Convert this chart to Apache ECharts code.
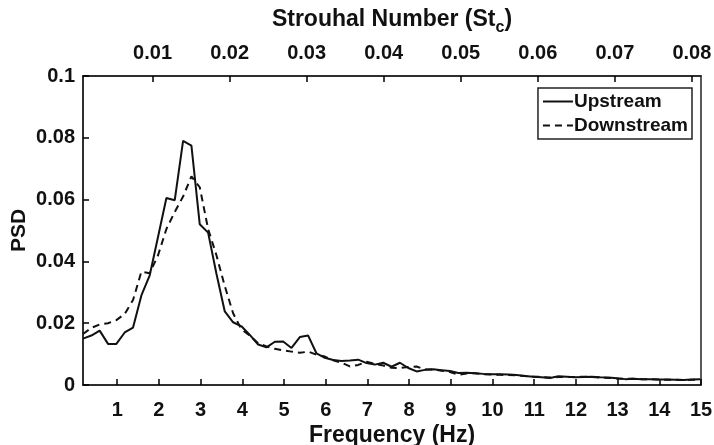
<!DOCTYPE html>
<html>
<head>
<meta charset="utf-8">
<script src="https://cdn.jsdelivr.net/npm/echarts@6/dist/echarts.min.js"></script>
<style>
  html, body { margin: 0; padding: 0; background: #fff; }
  #chart { width: 714px; height: 445px; }
</style>
</head>
<body>
<div id="chart"></div>
<script>
// frequency bins (Hz)
const freq = [
  0.18, 0.38, 0.58, 0.78, 0.98, 1.18, 1.38, 1.58, 1.78, 1.98,
  2.18, 2.38, 2.58, 2.78, 2.98, 3.18, 3.38, 3.58, 3.78, 3.98,
  4.18, 4.38, 4.58, 4.78, 4.98, 5.18, 5.38, 5.58, 5.78, 5.98,
  6.18, 6.38, 6.58, 6.78, 6.98, 7.18, 7.38, 7.58, 7.78, 7.98,
  8.18, 8.38, 8.58, 8.78, 8.98, 9.18, 9.38, 9.58, 9.78, 9.98,
  10.18, 10.38, 10.58, 10.78, 10.98, 11.18, 11.38, 11.58, 11.78, 11.98,
  12.18, 12.38, 12.58, 12.78, 12.98, 13.18, 13.38, 13.58, 13.78, 13.98,
  14.18, 14.38, 14.58, 14.78, 14.98
];

const upstream = [
  0.0150, 0.0160, 0.0176, 0.0133, 0.0133, 0.0170, 0.0186, 0.0290, 0.0355, 0.0480,
  0.0605, 0.0598, 0.0790, 0.0775, 0.0520, 0.0493, 0.0360, 0.0238, 0.0203, 0.0190,
  0.0162, 0.0131, 0.0122, 0.0140, 0.0141, 0.0120, 0.0155, 0.0160, 0.0102, 0.0088,
  0.0081, 0.0078, 0.0079, 0.0082, 0.0071, 0.0066, 0.0072, 0.0059, 0.0072, 0.0055,
  0.0044, 0.0049, 0.0051, 0.0048, 0.0045, 0.0039, 0.0040, 0.0038, 0.0036, 0.0035,
  0.0035, 0.0034, 0.0032, 0.0029, 0.0027, 0.0025, 0.0023, 0.0028, 0.0027, 0.0025,
  0.0026, 0.0027, 0.0025, 0.0024, 0.0022, 0.0019, 0.0020, 0.0019, 0.0019, 0.0018,
  0.0018, 0.0017, 0.0016, 0.0018, 0.0019
];

const downstream = [
  0.0165, 0.0185, 0.0196, 0.0200, 0.0210, 0.0230, 0.0275, 0.0367, 0.0362, 0.0420,
  0.0505, 0.0560, 0.0610, 0.0675, 0.0640, 0.0505, 0.0420, 0.0320, 0.0232, 0.0180,
  0.0160, 0.0135, 0.0125, 0.0117, 0.0112, 0.0108, 0.0104, 0.0108, 0.0098, 0.0092,
  0.0080, 0.0072, 0.0060, 0.0065, 0.0075, 0.0068, 0.0063, 0.0056, 0.0055, 0.0058,
  0.0060, 0.0050, 0.0050, 0.0046, 0.0042, 0.0033, 0.0037, 0.0038, 0.0035, 0.0034,
  0.0033, 0.0032, 0.0031, 0.0029, 0.0027, 0.0026, 0.0024, 0.0026, 0.0026, 0.0026,
  0.0027, 0.0026, 0.0024, 0.0023, 0.0021, 0.0020, 0.0020, 0.0019, 0.0019, 0.0018,
  0.0017, 0.0017, 0.0016, 0.0017, 0.0018
];

const freqTicks = [1, 2, 3, 4, 5, 6, 7, 8, 9, 10, 11, 12, 13, 14, 15];
const stTicks = [0.01, 0.02, 0.03, 0.04, 0.05, 0.06, 0.07, 0.08];

const fMin = 0.18, fMax = 15;
const stPerHz = 0.005412; // St_c per Hz (top axis scale)

const font = 'Liberation Sans';
const chart = echarts.init(document.getElementById('chart'));

const tickStyle = { show: true, inside: true, length: 6, lineStyle: { color: '#000', width: 1.5 } };
const labelStyle = { color: '#111', fontFamily: font, fontWeight: 'bold', fontSize: 20 };

chart.setOption({
  animation: false,
  grid: {
    left: 83, right: 13, top: 76, bottom: 60,
    outerBoundsMode: 'none',
    show: true, borderColor: '#222', borderWidth: 1.5
  },
  legend: {
    orient: 'vertical',
    right: 22, top: 88,
    align: 'left',
    itemWidth: 30, itemHeight: 14, itemGap: 5,
    padding: [4, 4, 4, 4],
    borderColor: '#222', borderWidth: 1.5,
    itemStyle: { opacity: 0 },
    textStyle: { color: '#111', fontFamily: font, fontWeight: 'bold', fontSize: 19, padding: [0, 0, 0, -4] },
    data: ['Upstream', 'Downstream']
  },
  xAxis: [
    {
      type: 'value', position: 'bottom',
      min: fMin, max: fMax,
      name: 'Frequency (Hz)', nameLocation: 'middle', nameGap: 39, nameMoveOverlap: false,
      nameTextStyle: { color: '#111', fontFamily: font, fontWeight: 'bold', fontSize: 23 },
      axisLine: { show: true, lineStyle: { color: '#222', width: 1.5 } },
      axisTick: Object.assign({ customValues: freqTicks }, tickStyle),
      axisLabel: Object.assign({ customValues: freqTicks, margin: 15 }, labelStyle),
      splitLine: { show: false }
    },
    {
      type: 'value', position: 'top',
      min: fMin * stPerHz, max: fMax * stPerHz,
      name: '{a|Strouhal Number (St}{s|c}{a|)}', nameLocation: 'middle', nameGap: 40, nameMoveOverlap: false,
      nameTextStyle: {
        rich: {
          a: { color: '#111', fontFamily: font, fontWeight: 'bold', fontSize: 23 },
          s: { color: '#111', fontFamily: font, fontWeight: 'bold', fontSize: 16, padding: [16, 0, 0, 0] }
        }
      },
      axisLine: { show: true, lineStyle: { color: '#222', width: 1.5 } },
      axisTick: Object.assign({ customValues: stTicks }, tickStyle),
      axisLabel: Object.assign({ customValues: stTicks, margin: 13 }, labelStyle),
      splitLine: { show: false }
    }
  ],
  yAxis: {
    type: 'value', min: 0, max: 0.1, interval: 0.02,
    name: 'PSD', nameLocation: 'middle', nameGap: 53, nameMoveOverlap: false,
    nameTextStyle: { color: '#111', fontFamily: font, fontWeight: 'bold', fontSize: 21 },
    axisLine: { show: true, lineStyle: { color: '#222', width: 1.5 } },
    axisTick: tickStyle,
    axisLabel: Object.assign({ margin: 8 }, labelStyle),
    splitLine: { show: false }
  },
  series: [
    {
      name: 'Upstream', type: 'line', xAxisIndex: 0,
      data: freq.map((f, i) => [f, upstream[i]]),
      showSymbol: false, symbol: 'none',
      lineStyle: { color: '#111', width: 2 },
      itemStyle: { color: '#111' }
    },
    {
      name: 'Downstream', type: 'line', xAxisIndex: 0,
      data: freq.map((f, i) => [f, downstream[i]]),
      showSymbol: false, symbol: 'none',
      lineStyle: { color: '#111', width: 2, type: [7, 5] },
      itemStyle: { color: '#111' }
    }
  ]
});
</script>
</body>
</html>
